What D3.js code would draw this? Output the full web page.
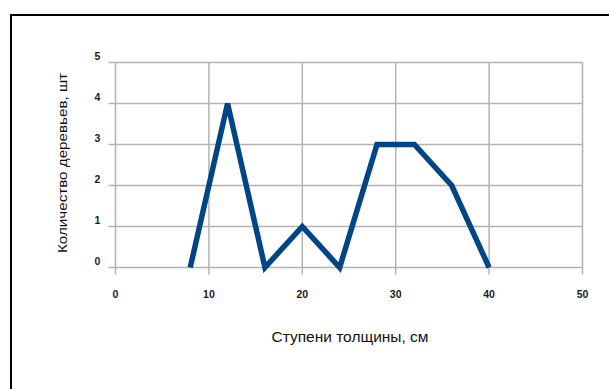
<!DOCTYPE html>
<html><head><meta charset="utf-8">
<script src="https://cdn.jsdelivr.net/npm/d3@7/dist/d3.min.js"></script>
<style>body{margin:0;background:#fff}svg{display:block}</style>
</head><body>
<script>
const xValues = [8, 12, 16, 20, 24, 28, 32, 36, 40];
const yValues = [0, 4, 0, 1, 0, 3, 3, 2, 0];
const xTicks = [0, 10, 20, 30, 40, 50];
const yTicks = [0, 1, 2, 3, 4, 5];
const xTitle = "Ступени толщины, см";
const yTitle = "Количество деревьев, шт";

const W = 609, H = 389;
const svg = d3.select("body").append("svg").attr("width", W).attr("height", H);
svg.append("rect").attr("x", 11).attr("y", 15).attr("width", 620).attr("height", 400)
  .attr("fill", "#fff").attr("stroke", "#000").attr("stroke-width", 2);

const x = d3.scaleLinear().domain([0, 50]).range([115.5, 582.5]);
const y = d3.scaleLinear().domain([0, 5]).range([267.5, 62.5]);
const grid = "#b3b3b3";
const font = "Liberation Sans, Arial, sans-serif";

const g = svg.append("g");
g.selectAll(".hg").data(yTicks).join("line")
  .attr("x1", x(0) - 7).attr("x2", x(50)).attr("y1", d => y(d)).attr("y2", d => y(d))
  .attr("stroke", grid).attr("stroke-width", 1.5);
g.selectAll(".vg").data(xTicks).join("line")
  .attr("x1", d => x(d)).attr("x2", d => x(d)).attr("y1", y(5)).attr("y2", y(0) + 7)
  .attr("stroke", grid).attr("stroke-width", 1.5);

g.selectAll(".yl").data(yTicks).join("text")
  .attr("x", 97.5).attr("y", d => y(d) - 3).attr("text-anchor", "middle")
  .attr("font-family", font).attr("font-size", 10.5).attr("font-weight", "bold")
  .attr("fill", "#1a1a1a").text(d => d);
g.selectAll(".xl").data(xTicks).join("text")
  .attr("x", d => x(d)).attr("y", 298).attr("text-anchor", "middle")
  .attr("font-family", font).attr("font-size", 10.5).attr("font-weight", "bold")
  .attr("fill", "#1a1a1a").text(d => d);

const line = d3.line().x((d, i) => x(xValues[i])).y(d => y(d));
g.append("path").datum(yValues).attr("d", line).attr("fill", "none")
  .attr("stroke", "#004586").attr("stroke-width", 5.5).attr("stroke-linejoin", "miter");

svg.append("text").attr("x", 350).attr("y", 342).attr("text-anchor", "middle")
  .attr("font-family", font).attr("font-size", 14)
  .attr("textLength", 157).attr("lengthAdjust", "spacingAndGlyphs")
  .attr("fill", "#111").text(xTitle);
svg.append("text").attr("transform", "translate(67,163) rotate(-90)").attr("text-anchor", "middle")
  .attr("font-family", font).attr("font-size", 13)
  .attr("textLength", 180).attr("lengthAdjust", "spacingAndGlyphs")
  .attr("fill", "#111").text(yTitle);
</script>
</body></html>
